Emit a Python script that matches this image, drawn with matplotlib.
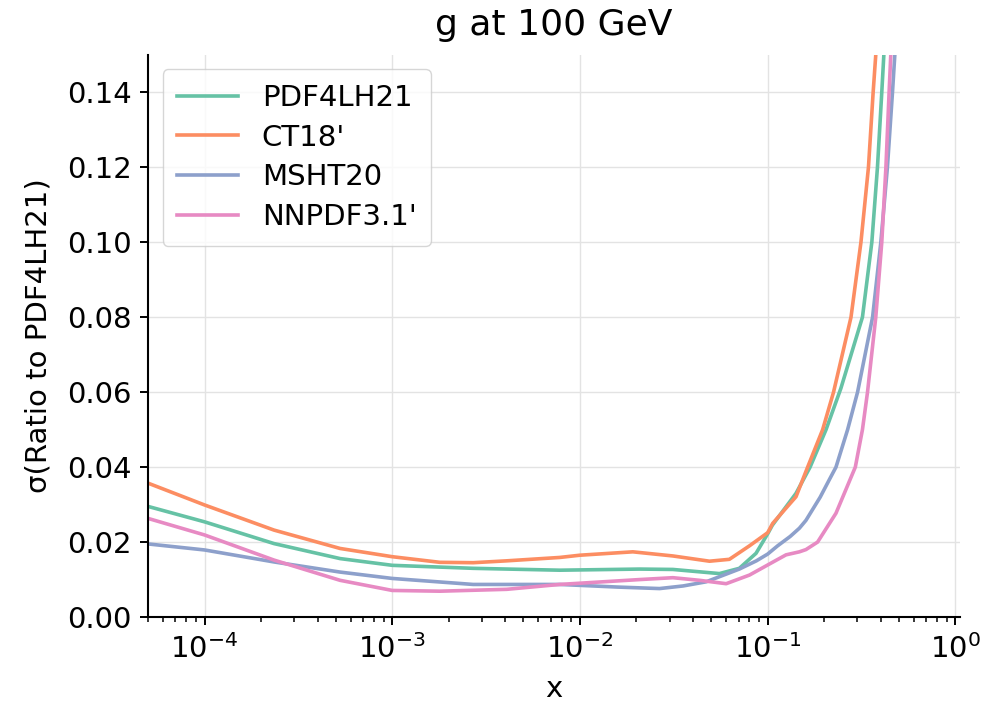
import numpy as np
import matplotlib.pyplot as plt

# values (log10 x, sigma)
labels = ["PDF4LH21", "CT18'", "MSHT20", "NNPDF3.1'"]
colors = ["#66c2a5", "#fc8d62", "#8da0cb", "#e78ac3"]

logx_pdf4lh = [-4.30, -4.0, -3.63, -3.278, -3.0, -2.569, -2.108, -1.683, -1.505, -1.257,
               -1.151, -1.062, -1.0, -0.975, -0.849, -0.774, -0.689, -0.61, -0.495,
               -0.445, -0.415, -0.392, -0.37]
sig_pdf4lh = [0.0295, 0.0254, 0.0196, 0.0156, 0.0138, 0.0130, 0.0125, 0.0128, 0.0127, 0.0116,
              0.0130, 0.0170, 0.0222, 0.0245, 0.0330, 0.0400, 0.0500, 0.0610, 0.0800,
              0.1000, 0.1200, 0.1400, 0.1600]

logx_ct18 = [-4.30, -4.0, -3.63, -3.278, -3.0, -2.746, -2.569, -2.39, -2.108, -2.0, -1.718,
             -1.505, -1.31, -1.204, -1.097, -1.0, -0.973, -0.849, -0.787, -0.707, -0.649,
             -0.556, -0.503, -0.463, -0.438, -0.41]
sig_ct18 = [0.0357, 0.0299, 0.0232, 0.0183, 0.0161, 0.0146, 0.0145, 0.0150, 0.0159, 0.0165, 0.0174,
            0.0163, 0.0149, 0.0154, 0.0190, 0.0225, 0.0250, 0.0321, 0.0400, 0.0500, 0.0600,
            0.0800, 0.1000, 0.1200, 0.1400, 0.1600]

logx_msht = [-4.30, -4.0, -3.63, -3.278, -3.0, -2.569, -2.108, -1.8, -1.576, -1.45, -1.328,
             -1.151, -1.06, -1.0, -0.947, -0.88, -0.831, -0.796, -0.72, -0.672, -0.636, -0.574,
             -0.521, -0.441, -0.397, -0.362, -0.335, -0.31]
sig_msht = [0.0195, 0.0179, 0.0147, 0.0120, 0.0103, 0.0087, 0.0087, 0.0080, 0.0076, 0.0083, 0.0094,
            0.0128, 0.0150, 0.0168, 0.0190, 0.0215, 0.0237, 0.0258, 0.0320, 0.0366, 0.0400, 0.0500,
            0.0600, 0.0800, 0.1000, 0.1200, 0.1400, 0.1600]

logx_nnpdf = [-4.30, -4.0, -3.63, -3.278, -3.0, -2.746, -2.39, -2.108, -1.683, -1.505, -1.363,
              -1.221, -1.097, -0.96, -0.902, -0.831, -0.796, -0.734, -0.636, -0.533, -0.495,
              -0.468, -0.424, -0.392, -0.370, -0.353, -0.335]
sig_nnpdf = [0.0263, 0.0219, 0.0152, 0.0098, 0.0071, 0.0069, 0.0074, 0.0087, 0.0100, 0.0105, 0.0098,
             0.0089, 0.0112, 0.0150, 0.0166, 0.0174, 0.0180, 0.0200, 0.0277, 0.0400, 0.0500,
             0.0600, 0.0800, 0.1000, 0.1200, 0.1400, 0.1600]

series = [(logx_pdf4lh, sig_pdf4lh), (logx_ct18, sig_ct18),
          (logx_msht, sig_msht), (logx_nnpdf, sig_nnpdf)]

fig = plt.figure(figsize=(9.97, 7.02), dpi=100)
ax = fig.add_axes([0.1485, 0.121, 0.8145, 0.801])

for (lx, s), lab, c in zip(series, labels, colors):
    ax.plot(10 ** np.array(lx), s, color=c, lw=2.6, label=lab,
            solid_joinstyle="round")

ax.set_xscale("log")
ax.set_xlim(5e-5, 1.06)
ax.set_ylim(0, 0.15)
ax.set_yticks(np.arange(0, 0.141, 0.02))
ax.grid(True, color="#e3e3e3", lw=1.0)
ax.set_axisbelow(True)
for sp in ["top", "right"]:
    ax.spines[sp].set_visible(False)
ax.spines["left"].set_linewidth(1.5)
ax.spines["bottom"].set_linewidth(1.5)
ax.tick_params(which="major", labelsize=21, length=6, width=1.4, pad=6)
ax.tick_params(which="minor", length=3.5, width=1.1)
ax.set_xlabel("x", fontsize=21, labelpad=8)
ax.set_ylabel("σ(Ratio to PDF4LH21)", fontsize=21, labelpad=10)
ax.set_title("g at 100 GeV", fontsize=26, pad=14)
leg = ax.legend(loc="upper left", fontsize=21, handlelength=2.1, borderpad=0.5,
                labelspacing=0.4, handletextpad=0.8)

fig.savefig("out.png", dpi=100)
